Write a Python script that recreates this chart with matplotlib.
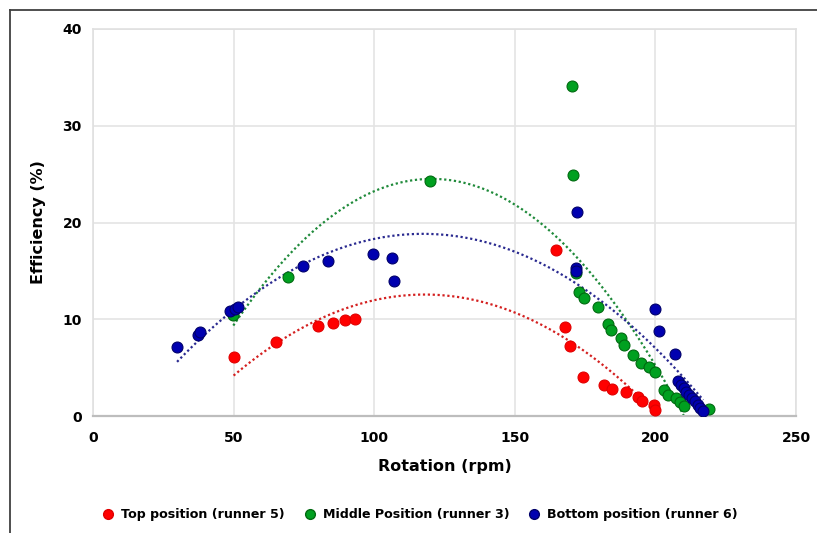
import numpy as np
import matplotlib.pyplot as plt
from matplotlib.lines import Line2D

# ===== 数据 =====
top_rpm = [50, 65.2, 80.1, 85.5, 89.7, 93.3, 164.5, 167.7, 169.5, 174.1,
           181.6, 184.5, 189.5, 193.7, 195.2, 199.4, 199.8]
top_eff = [6.1, 7.65, 9.3, 9.6, 9.9, 10.0, 17.2, 9.2, 7.2, 4.0,
           3.2, 2.8, 2.5, 2.0, 1.6, 1.1, 0.6]

mid_rpm = [49.9, 69.4, 119.7, 170.2, 170.6, 171.9, 172.8, 174.6, 179.5, 183.0,
           184.1, 187.7, 188.7, 192.0, 194.8, 197.6, 199.8, 203.0, 204.5,
           207.5, 208.9, 210.0, 219.0]
mid_eff = [10.4, 14.4, 24.3, 34.1, 24.9, 14.8, 12.8, 12.2, 11.3, 9.5,
           8.9, 8.1, 7.3, 6.3, 5.5, 5.1, 4.6, 2.7, 2.2,
           1.9, 1.4, 1.0, 0.7]

bot_rpm = [29.9, 37.3, 37.9, 48.8, 50.6, 51.6, 74.8, 83.7, 99.7, 106.5,
           107.2, 172.0, 171.7, 171.9, 199.8, 201.2, 206.9, 208.0, 209.0,
           210.0, 211.0, 212.0, 213.0, 214.0, 215.0, 216.0, 217.0]
bot_eff = [7.1, 8.4, 8.7, 10.9, 11.1, 11.3, 15.5, 16.0, 16.7, 16.3,
           14.0, 21.1, 15.3, 15.0, 11.1, 8.8, 6.4, 3.6, 3.2,
           2.9, 2.5, 2.2, 1.9, 1.5, 1.1, 0.8, 0.5]

series = [
    ('Top position (runner 5)', top_rpm, top_eff, '#ff0000', '#e00000', '#d42020'),
    ('Middle Position (runner 3)', mid_rpm, mid_eff, '#00a020', '#006a10', '#1f8a3a'),
    ('Bottom position (runner 6)', bot_rpm, bot_eff, '#0000b0', '#00006a', '#2a2a90'),
]

plt.rcParams['font.family'] = ['DejaVu Sans']
plt.rcParams['font.weight'] = 'bold'

fig = plt.figure(figsize=(8.17, 5.33), dpi=100)
ax = fig.add_axes([0.1138, 0.2195, 0.8605, 0.7261])

for name, xs, ys, fc, ec, lc in series:
    ax.scatter(xs, ys, s=62, color=fc, edgecolors=ec, linewidths=0.8,
               zorder=3, label=name)
    # 二次多项式趋势线 (Excel 风格)
    coef = np.polyfit(xs, ys, 2)
    xx = np.linspace(min(xs), max(xs), 200)
    ax.plot(xx, np.polyval(coef, xx), linestyle=(0, (1, 1.2)), color=lc,
            linewidth=1.6, zorder=2)

ax.set_xlim(0, 250)
ax.set_ylim(0, 40)
ax.set_xticks(range(0, 251, 50))
ax.set_yticks(range(0, 41, 10))
ax.tick_params(length=0, labelsize=10, pad=8)
ax.tick_params(axis='x', pad=11)
for lab in ax.get_xticklabels() + ax.get_yticklabels():
    lab.set_fontweight('bold')
ax.grid(True, color='#e4e4e4', linewidth=1.2)
ax.set_axisbelow(True)
for s in ['top', 'right', 'left']:
    ax.spines[s].set_color('#e0e0e0')
    ax.spines[s].set_linewidth(1.2)
ax.spines['bottom'].set_color('#bdbdbd')
ax.spines['bottom'].set_linewidth(1.6)

ax.set_xlabel('Rotation (rpm)', fontsize=11.5, fontweight='bold', labelpad=10)
ax.set_ylabel('Efficiency (%)', fontsize=11.5, fontweight='bold', labelpad=12)

handles = [Line2D([], [], marker='o', linestyle='none', markersize=7,
                  markerfacecolor=fc, markeredgecolor=ec)
           for name, xs, ys, fc, ec, lc in series]
fig.legend(handles, [s[0] for s in series], loc='center',
           bbox_to_anchor=(0.51, 0.034), ncol=3, frameon=False,
           prop={'size': 9.1, 'weight': 'bold'}, handletextpad=0.05,
           columnspacing=0.95)

# 外框 (只看到左边和上边)
fig.add_artist(Line2D([10 / 817, 10 / 817], [0, 1 - 10 / 533],
                      transform=fig.transFigure, color='#404040', linewidth=1.3))
fig.add_artist(Line2D([10 / 817, 1], [1 - 10 / 533, 1 - 10 / 533],
                      transform=fig.transFigure, color='#404040', linewidth=1.3))

fig.savefig('out.png', dpi=100)
